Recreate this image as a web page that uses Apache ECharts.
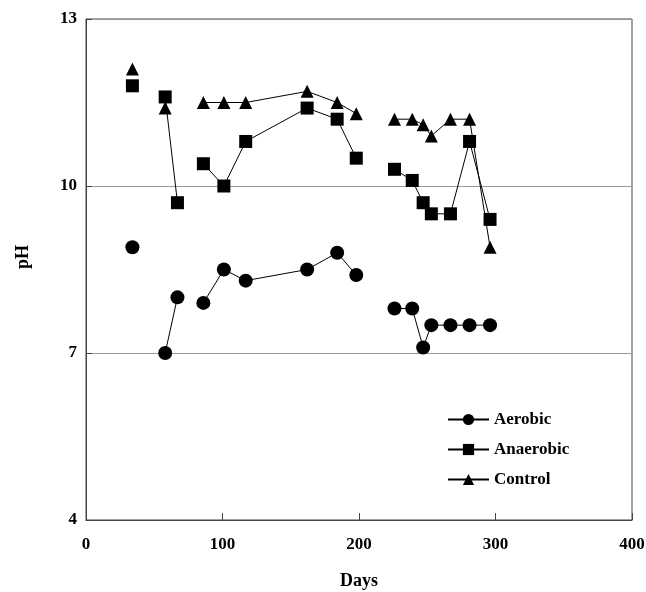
<!DOCTYPE html>
<html>
<head>
<meta charset="utf-8">
<script src="https://cdn.jsdelivr.net/npm/echarts@6/dist/echarts.min.js"></script>
<style>
html,body{margin:0;padding:0;background:#fff;}
#chart{width:646px;height:592px;}
</style>
</head>
<body>
<div id="chart"></div>
<script>
// Data
var days      = [34, 58, 67, 86, 101, 117, 162, 184, 198, 226, 239, 247, 253, 267, 281, 296];
var runGroup  = [1, 2, 2, 3, 3, 3, 3, 3, 3, 4, 4, 4, 4, 4, 4, 4];
var aerobic   = [8.9, 7.0, 8.0, 7.9, 8.5, 8.3, 8.5, 8.8, 8.4, 7.8, 7.8, 7.1, 7.5, 7.5, 7.5, 7.5];
var anaerobic = [11.8, 11.6, 9.7, 10.4, 10.0, 10.8, 11.4, 11.2, 10.5, 10.3, 10.1, 9.7, 9.5, 9.5, 10.8, 9.4];
var control   = [12.1, 11.4, null, 11.5, 11.5, 11.5, 11.7, 11.5, 11.3, 11.2, 11.2, 11.1, 10.9, 11.2, 11.2, 8.9];
var xTicks = [0, 100, 200, 300, 400];
var yTicks = [4, 7, 10, 13];

function build(vals) {
  var out = [];
  for (var i = 0; i < days.length; i++) {
    if (i > 0 && runGroup[i] !== runGroup[i - 1]) out.push([days[i - 1], '-']);
    out.push([days[i], vals[i] === null ? '-' : vals[i]]);
  }
  return out;
}

var font = '"Liberation Serif", "Times New Roman", serif';
var chart = echarts.init(document.getElementById('chart'), null, {renderer: 'canvas'});

function series(name, vals, symbol, size) {
  return {
    name: name, type: 'line', data: build(vals),
    symbol: symbol, symbolSize: size, showAllSymbol: true,
    connectNulls: false,
    lineStyle: {color: '#000', width: 1},
    itemStyle: {color: '#000'},
    emphasis: {disabled: true},
    animation: false
  };
}

chart.setOption({
  animation: false,
  grid: {left: 86, right: 14, top: 19, bottom: 72, show: true, borderColor: '#444', borderWidth: 1,
         containLabel: false, outerBoundsMode: 'none'},
  xAxis: {
    type: 'value', min: xTicks[0], max: xTicks[xTicks.length - 1], interval: 100,
    name: 'Days', nameLocation: 'middle', nameGap: 52,
    nameTextStyle: {fontFamily: font, fontWeight: 'bold', fontSize: 18, color: '#000'},
    axisLine: {lineStyle: {color: '#444'}},
    axisTick: {inside: true, length: 7, lineStyle: {color: '#444'}},
    axisLabel: {fontFamily: font, fontWeight: 'bold', fontSize: 17, color: '#000', margin: 16},
    splitLine: {show: false}
  },
  yAxis: {
    type: 'value', min: yTicks[0], max: yTicks[yTicks.length - 1], interval: 3,
    axisLine: {show: true, lineStyle: {color: '#444'}},
    axisTick: {show: true, inside: true, length: 6, lineStyle: {color: '#444'}},
    axisLabel: {fontFamily: font, fontWeight: 'bold', fontSize: 17, color: '#000', margin: 9},
    splitLine: {show: true, lineStyle: {color: '#999', width: 1}}
  },
  graphic: [{
    type: 'text', left: 14, top: 245, rotation: Math.PI / 2,
    style: {text: 'pH', fontFamily: font, fontWeight: 'bold', fontSize: 18, fill: '#000'}
  }],
  legend: {
    orient: 'vertical', left: 442, top: 406, itemGap: 13, itemWidth: 41, itemHeight: 14,
    textStyle: {fontFamily: font, fontWeight: 'bold', fontSize: 17, color: '#000', padding: [0, 0, 0, 0]},
    data: ['Aerobic', 'Anaerobic', 'Control']
  },
  series: [
    series('Aerobic', aerobic, 'circle', 14),
    series('Anaerobic', anaerobic, 'rect', 13),
    series('Control', control, 'triangle', 13)
  ]
});
</script>
</body>
</html>
